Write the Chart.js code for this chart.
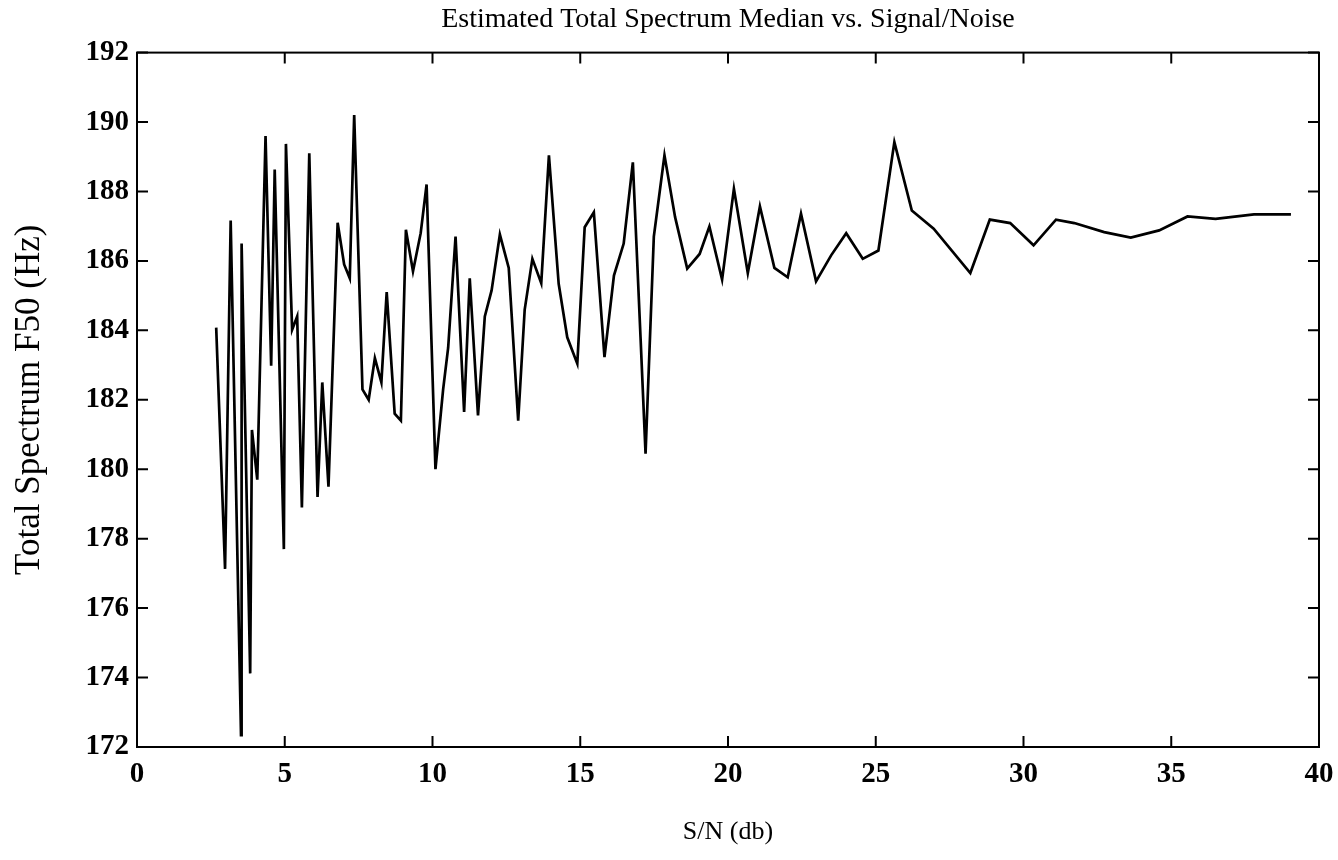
<!DOCTYPE html>
<html>
<head>
<meta charset="utf-8">
<title>Estimated Total Spectrum Median vs. Signal/Noise</title>
<script src="https://cdn.jsdelivr.net/npm/chart.js@4.4.1/dist/chart.umd.min.js"></script>
<style>
  html, body { margin: 0; padding: 0; background: #fff; }
  #wrap { width: 1338px; height: 860px; }
</style>
</head>
<body>
<div id="wrap"><canvas id="f50Chart" width="1338" height="860"></canvas></div>
<script>
// S/N in db
let snr = [2.68, 2.98, 3.17, 3.52, 3.54, 3.83, 3.89, 4.07, 4.35, 4.54, 4.66, 4.97, 5.04, 5.25, 5.42,
    5.58, 5.83, 6.11, 6.27, 6.48, 6.79, 7.01, 7.2, 7.35, 7.63, 7.84, 8.05, 8.27, 8.45, 8.72, 8.93,
    9.1, 9.34, 9.6, 9.8, 10.1, 10.36, 10.53, 10.78, 11.07, 11.26, 11.54, 11.77, 12.0, 12.28, 12.58,
    12.9, 13.12, 13.38, 13.68, 13.94, 14.13, 14.27, 14.56, 14.9, 15.15, 15.46, 15.82, 16.14, 16.47,
    16.78, 17.04, 17.21, 17.49, 17.85, 18.21, 18.62, 19.04, 19.37, 19.8, 20.2, 20.67, 21.08, 21.57,
    22.02, 22.47, 22.98, 23.49, 24.0, 24.56, 25.09, 25.63, 26.22, 26.96, 28.2, 28.86, 29.55, 30.34,
    31.1, 31.72, 32.73, 33.63, 34.59, 35.55, 36.5, 37.8, 39.05];

// total spectrum F50 in Hz
let f50 = [184.08, 177.13, 187.16, 172.34, 186.5, 174.12, 181.13, 179.7, 189.6, 182.98, 188.63, 177.7,
    189.37, 184.02, 184.4, 178.9, 189.1, 179.2, 182.5, 179.5, 187.1, 185.9, 185.5, 190.2, 182.3, 182.0,
    183.2, 182.5, 185.1, 181.6, 181.4, 186.9, 185.7, 186.8, 188.2, 180.0, 182.3, 183.5, 186.7, 181.65,
    185.5, 181.55, 184.4, 185.15, 186.76, 185.8, 181.4, 184.6, 186.06, 185.36, 189.04, 186.9, 185.34,
    183.8, 183.04, 186.97, 187.4, 183.23, 185.58, 186.5, 188.84, 183.8, 180.45, 186.7, 189.04, 187.26,
    185.78, 186.2, 186.99, 185.46, 188.08, 185.65, 187.57, 185.8, 185.53, 187.36, 185.41, 186.16, 186.8,
    186.06, 186.3, 189.42, 187.45, 186.93, 185.65, 187.19, 187.09, 186.45, 187.19, 187.09, 186.83,
    186.67, 186.88, 187.28, 187.21, 187.34, 187.34];

let xTicks = [0, 5, 10, 15, 20, 25, 30, 35, 40];
let yTicks = [172, 174, 176, 178, 180, 182, 184, 186, 188, 190, 192];

const serif = "'Liberation Serif', 'DejaVu Serif', serif";

// box round the plot with short ticks pointing inwards on all four sides
const frameTicks = {
    id: 'frameTicks',
    afterDraw(chart) {
        let ctx = chart.ctx;
        let a = chart.chartArea;
        let xs = chart.scales.x, ys = chart.scales.y;
        let len = 11;
        ctx.save();
        ctx.strokeStyle = '#000';
        ctx.lineWidth = 2;
        ctx.strokeRect(a.left, a.top, a.right - a.left, a.bottom - a.top);
        ctx.beginPath();
        xTicks.forEach(v => {
            let px = xs.getPixelForValue(v);
            ctx.moveTo(px, a.bottom); ctx.lineTo(px, a.bottom - len);
            ctx.moveTo(px, a.top); ctx.lineTo(px, a.top + len);
        });
        yTicks.forEach(v => {
            let py = ys.getPixelForValue(v);
            ctx.moveTo(a.left, py); ctx.lineTo(a.left + len, py);
            ctx.moveTo(a.right, py); ctx.lineTo(a.right - len, py);
        });
        ctx.stroke();
        ctx.restore();
    }
};

let points = snr.map((x, i) => ({ x: x, y: f50[i] }));

new Chart(document.getElementById('f50Chart').getContext('2d'), {
    type: 'line',
    data: {
        datasets: [{
            data: points,
            borderColor: '#000',
            borderWidth: 2.7,
            pointRadius: 0,
            tension: 0,
            fill: false
        }]
    },
    options: {
        responsive: false,
        animation: false,
        layout: { padding: 0 },
        plugins: {
            legend: { display: false },
            tooltip: { enabled: false },
            title: {
                display: true,
                fullSize: false,
                text: 'Estimated Total Spectrum Median vs. Signal/Noise',
                color: '#000',
                font: { family: serif, size: 28, weight: 'normal' },
                padding: { top: 3, bottom: 16 }
            }
        },
        scales: {
            x: {
                type: 'linear',
                min: 0,
                max: 40,
                afterBuildTicks: s => { s.ticks = xTicks.map(v => ({ value: v })); },
                afterFit: s => { s.height = 113; s.paddingRight = 19; },
                grid: { display: false, drawTicks: false },
                border: { display: false },
                ticks: {
                    color: '#000',
                    padding: 10,
                    font: { family: serif, size: 29, weight: 'bold' }
                },
                title: {
                    display: true,
                    text: 'S/N (db)',
                    color: '#000',
                    font: { family: serif, size: 26, weight: 'normal' },
                    padding: { top: 0, bottom: 12 }
                }
            },
            y: {
                min: 172,
                max: 192,
                afterBuildTicks: s => { s.ticks = yTicks.map(v => ({ value: v })); },
                afterFit: s => { s.width = 137; },
                grid: { display: false, drawTicks: false },
                border: { display: false },
                ticks: {
                    color: '#000',
                    padding: 8,
                    font: { family: serif, size: 29, weight: 'bold' }
                },
                title: {
                    display: true,
                    text: 'Total Spectrum F50 (Hz)',
                    color: '#000',
                    font: { family: serif, size: 35, weight: 'normal' },
                    padding: { top: 9, bottom: 0 }
                }
            }
        }
    },
    plugins: [frameTicks]
});
</script>
</body>
</html>
